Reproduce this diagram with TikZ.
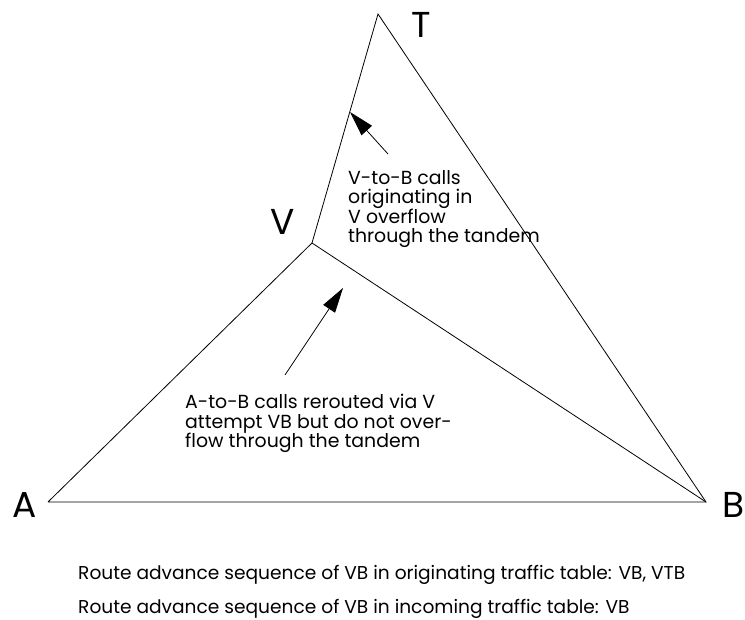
\documentclass[tikz,border=0pt]{standalone}
\usepackage{fontspec}
\setmainfont{Poppins}
\usetikzlibrary{arrows.meta}
\begin{document}
\begin{tikzpicture}[x=1pt,y=-1pt,
  edge/.style={line width=0.8pt,black},
  callarrow/.style={line width=0.8pt,-{Triangle[length=25pt,width=14pt]}},
  vlabel/.style={font=\fontsize{36}{36}\selectfont, inner sep=0pt},
  note/.style={font=\fontsize{18.9}{19.6}\selectfont, align=left, inner sep=0pt, anchor=base west},
  foot/.style={font=\fontsize{18.6}{20}\selectfont, inner sep=0pt, anchor=base west}]
\useasboundingbox (0,0) rectangle (745,620);
\coordinate (T) at (378,14);
\coordinate (V) at (312,243);
\coordinate (A) at (48,502);
\coordinate (B) at (706,502);
\draw[edge] (A) -- (B) -- (T) -- (V) -- (A);
\draw[edge] (V) -- (B);
\node[vlabel] (lT) at (421,25) {T};
\node[vlabel] (lV) at (283,222) {V};
\node[vlabel] (lA) at (25,505) {A};
\node[vlabel] (lB) at (734,505) {B};
\node[note] (n1) at (348,243) {V-to-B calls\\originating in\\V overflow\\through the tandem};
\node[note] (n2) at (185,448) {A-to-B calls rerouted via V\\attempt VB but do not over-\\flow through the tandem};
\coordinate (a1s) at (388,154);
\coordinate (a1e) at (350,112);
\coordinate (a2s) at (285,375);
\coordinate (a2e) at (343,288);
\draw[callarrow] (a1s) -- (a1e);
\draw[callarrow] (a2s) -- (a2e);
\node[foot] (f1) at (78,579) {Route advance sequence of VB in originating traffic table: VB, VTB};
\node[foot] (f2) at (78,613) {Route advance sequence of VB in incoming traffic table: VB};
\end{tikzpicture}
\end{document}
